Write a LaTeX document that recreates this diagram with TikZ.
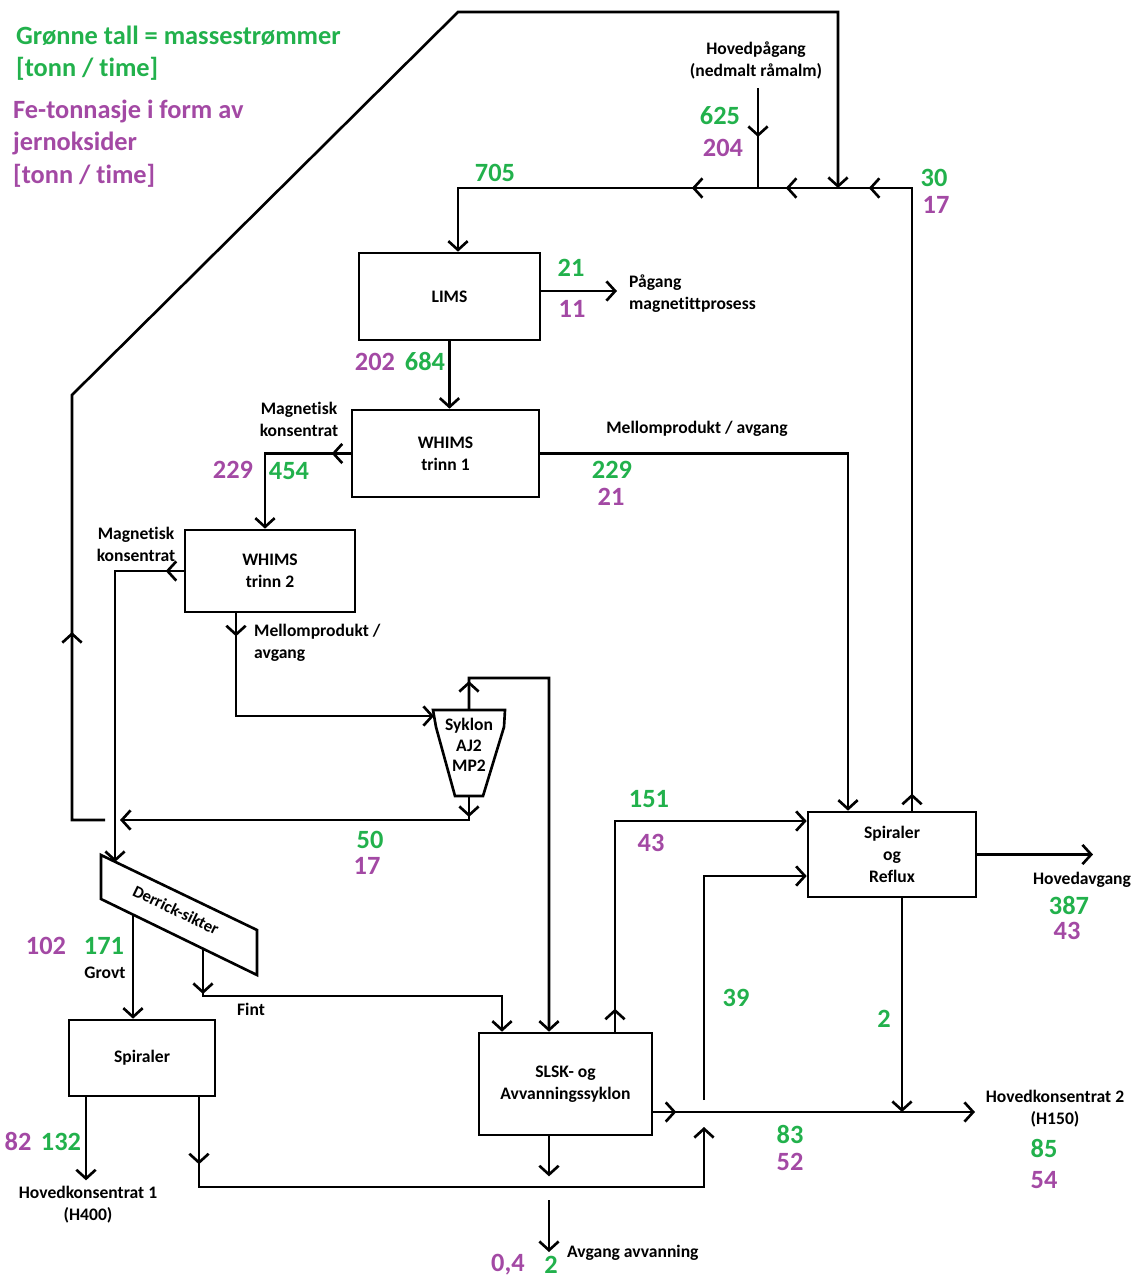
\documentclass[tikz,border=0pt]{standalone}
\usepackage{fontspec}
\setmainfont{Carlito}[Ligatures=NoCommon]
\usetikzlibrary{arrows.meta,decorations.markings}
\definecolor{massgreen}{RGB}{34,177,76}
\definecolor{fepurple}{RGB}{163,73,164}
\tikzset{
  flow/.style={line width=1.5pt},
  midtip/.style={postaction={decorate,decoration={markings,mark=at position #1 with {\arrow{>}}}}},
  unit/.style={draw,line width=1.5pt,align=center,font=\fontsize{10}{12.5}\selectfont\bfseries},
  lbl/.style={align=center,font=\fontsize{10}{12.5}\selectfont\bfseries},
  mass/.style={text=massgreen,font=\fontsize{15}{18.2}\selectfont\bfseries},
  fe/.style={text=fepurple,font=\fontsize{15}{18.2}\selectfont\bfseries},
}
\begin{document}
\begin{tikzpicture}[x=0.02cm,y=-0.02cm,>={Straight Barb[length=5pt,width=11pt]}]
\useasboundingbox (0,0) rectangle (1136,1279);

% forklaring
\node[mass,anchor=west,align=left] (legGreen) at (10,53) {Grønne tall = massestrømmer\\{[tonn / time]}};
\node[fe,anchor=west,align=left,font=\fontsize{15}{18.5}\selectfont\bfseries] (legPurple) at (7,143.5) {Fe-tonnasje i form av\\jernoksider\\{[tonn / time]}};

% enheter
\node[unit,minimum width=3.62cm,minimum height=1.74cm] (lims) at (449.5,296.5) {LIMS};
\node[unit,minimum width=3.74cm,minimum height=1.74cm] (whims1) at (445.5,453.5) {WHIMS\\trinn 1};
\node[unit,minimum width=3.4cm,minimum height=1.64cm] (whims2) at (270,571) {WHIMS\\trinn 2};
\node[unit,minimum width=2.92cm,minimum height=1.52cm] (spir) at (142,1058) {Spiraler};
\node[unit,minimum width=3.46cm,minimum height=2.04cm] (slsk) at (565.5,1084) {SLSK- og\\Avvanningssyklon};
\node[unit,minimum width=3.36cm,minimum height=1.7cm] (reflux) at (892,854.5) {Spiraler\\og\\Reflux};

% syklon
\draw[line width=1.5pt] (433,710) -- (505,710) -- (504,727) -- (483,796) -- (455,796) -- (436,727) -- cycle;
\node[lbl,font=\fontsize{10}{11.7}\selectfont\bfseries] (syklon) at (469,745) {Syklon\\AJ2\\MP2};
\coordinate (sykTop) at (469,710);
\coordinate (sykBot) at (469,796);
\coordinate (sykIn) at (434,716);
\coordinate (sykOver) at (549,678);
\coordinate (sykRet) at (120,820);

% derrick-sikter
\draw[line width=1.5pt] (101,855) -- (257,930) -- (257,975) -- (101,899) -- cycle;
\node[lbl,rotate=-25.7,inner sep=1pt,font=\fontsize{9.5}{11}\selectfont\bfseries] (derrick) at (176,910) {Derrick-sikter};
\coordinate (derIn) at (115,862);
\coordinate (derGrov) at (133,915);
\coordinate (derFint) at (203,949);
\coordinate (fintJ) at (203,996);

% hjelpepunkter
\coordinate (hR) at (912,188);
\coordinate (hL) at (458,188);
\coordinate (feedTop) at (758,88);
\coordinate (loopS) at (105,820);
\coordinate (loopE) at (838,188);
\coordinate (magOut) at (617,291);
\coordinate (retB) at (704,1187);
\coordinate (retUp) at (704,1127);
\coordinate (r39) at (704,1100);
\coordinate (hk2In) at (975,1112);
\coordinate (avgOut) at (1093,854);
\coordinate (dewTop) at (549,1200);
\coordinate (dewEnd) at (549,1252);
\coordinate (spirL) at ([xshift=-1.12cm]spir.south);
\coordinate (spirR) at ([xshift=1.14cm]spir.south);
\coordinate (slskOut) at ([yshift=-0.56cm]slsk.east);
\coordinate (slskUp) at ([xshift=0.99cm]slsk.north);
\coordinate (slskD) at ([xshift=-0.33cm]slsk.south);
\coordinate (refluxD) at ([xshift=0.2cm]reflux.south);

% tekster
\node[lbl] (feedLbl) at (756,60) {Hovedpågang\\(nedmalt råmalm)};
\node[lbl,align=left,anchor=west] (magLbl) at (623,294) {Pågang\\magnetittprosess};
\node[lbl] (mk1) at (299,419) {Magnetisk\\konsentrat};
\node[lbl] (mp1) at (697,429) {Mellomprodukt / avgang};
\node[lbl] (mk2) at (136,544) {Magnetisk\\konsentrat};
\node[lbl,align=left,anchor=west] (mp2) at (248,643) {Mellomprodukt /\\avgang};
\node[lbl] (grovt) at (105,973) {Grovt};
\node[lbl] (fint) at (251,1009) {Fint};
\node[lbl] (avg) at (1082,880) {Hovedavgang};
\node[lbl] (hk1) at (88,1205) {Hovedkonsentrat 1\\(H400)};
\node[lbl] (hk2) at (1055,1109) {Hovedkonsentrat 2\\(H150)};
\node[lbl,anchor=west] (dew) at (561,1253) {Avgang avvanning};

% strømmer
\draw[flow,->,midtip=0.34cm,midtip=13.32cm,midtip=14.98cm,midtip=16.86cm]
  (reflux.north -| hR) -- (hR) -- (hL) -- (lims.north -| hL);
\draw[flow,midtip=0.98cm] (feedTop) -- (feedTop |- hR);
\draw[flow,->,midtip=4.42cm] (loopS) -- (72,820) -- (72,395) -- (458,12) -- (838,12) -- (loopE);
\draw[flow,->] (lims.east |- magOut) -- (magOut);
\draw[flow,->] (lims.south) -- (lims.south |- whims1.north);
\draw[flow,->,midtip=0.38cm] (whims1.west) -| ([xshift=-0.1cm]whims2.north);
\draw[flow,->] (whims1.east) -| ([xshift=-0.88cm]reflux.north);
\draw[flow,->,midtip=0.36cm] (whims2.west) -| (derIn);
\draw[flow,->,midtip=0.46cm] ([xshift=-0.68cm]whims2.south) |- (sykIn);
\draw[flow,->,midtip=0.58cm] (sykTop) -- (sykTop |- sykOver) -- (sykOver) -- ([xshift=-0.33cm]slsk.north);
\draw[flow,->,midtip=0.42cm] (sykBot) |- (sykRet);
\draw[flow,->] (derGrov) -- (derGrov |- spir.north);
\draw[flow,->,midtip=0.9cm] (derFint) -- (fintJ) -| ([xshift=-1.27cm]slsk.north);
\draw[flow,->] (spirL) -- (spirL |- hk1.north);
\draw[flow,->,midtip=1.34cm] (spirR) |- (retB) -- (retUp);
\draw[flow,->,midtip=0.46cm] (slskOut) -- (slskOut -| hk2In);
\draw[flow,->] (r39) |- ([yshift=-0.43cm]reflux.west);
\draw[flow,->,midtip=0.46cm] (slskUp) |- ([yshift=0.67cm]reflux.west);
\draw[flow,->] (refluxD) -- (refluxD |- hk2In);
\draw[flow,->] (reflux.east) -- (reflux.east -| avgOut);
\draw[flow,->] (slskD) -- ++(0,40);
\draw[flow,->] (dewTop) -- (dewEnd);

% tall
\node[mass] (m625) at (720,116) {625};
\node[fe] (f204) at (723,148) {204};
\node[mass] (m705) at (495,173) {705};
\node[mass] (m30) at (934,178) {30};
\node[fe] (f17a) at (936,205) {17};
\node[mass] (m21) at (571,268) {21};
\node[fe] (f11) at (572,309) {11};
\node[fe] (f202) at (375,362) {202};
\node[mass] (m684) at (425,361) {684};
\node[fe] (f229) at (233,470) {229};
\node[mass] (m454) at (289,471) {454};
\node[mass] (m229) at (612,470) {229};
\node[fe] (f21) at (611,497) {21};
\node[mass] (m50) at (370,840) {50};
\node[fe] (f17b) at (367,866) {17};
\node[mass] (m151) at (649,799) {151};
\node[fe] (f43a) at (651,843) {43};
\node[fe] (f102) at (46,946) {102};
\node[mass] (m171) at (104,946) {171};
\node[mass] (m39) at (736,998) {39};
\node[mass] (m2a) at (884,1019) {2};
\node[mass] (m387) at (1069,905) {387};
\node[fe] (f43b) at (1067,931) {43};
\node[fe] (f82) at (18,1141) {82};
\node[mass] (m132) at (61,1142) {132};
\node[mass] (m83) at (790,1134) {83};
\node[fe] (f52) at (790,1162) {52};
\node[mass] (m85) at (1044,1148) {85};
\node[fe] (f54) at (1044,1180) {54};
\node[fe,inner sep=1pt] (f04) at (508,1265) {0,4};
\node[mass,inner sep=1pt] (m2b) at (551,1265) {2};
\end{tikzpicture}
\end{document}
